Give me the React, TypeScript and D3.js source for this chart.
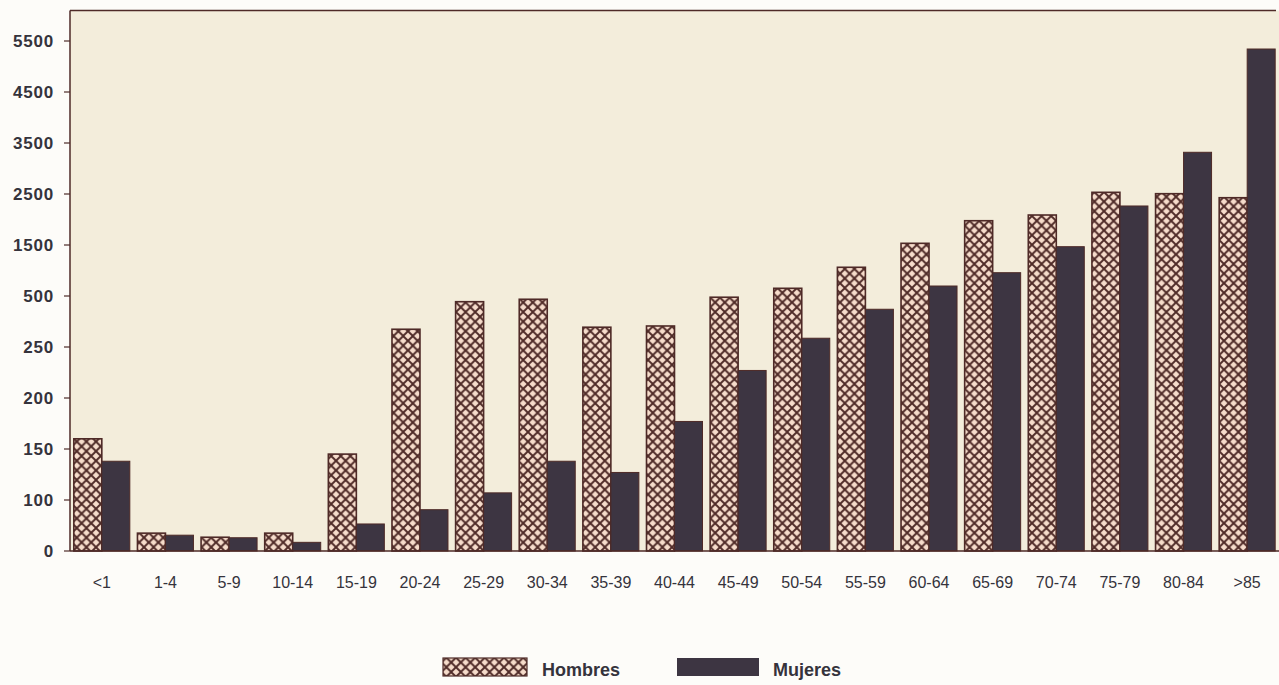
import React from "react";
import * as d3 from "d3";

const categories = ["<1", "1-4", "5-9", "10-14", "15-19", "20-24", "25-29", "30-34", "35-39", "40-44", "45-49", "50-54", "55-59", "60-64", "65-69", "70-74", "75-79", "80-84", ">85"];
const hombres = [160, 35, 27, 35, 145, 337, 472, 484, 347, 353, 494, 651, 1063, 1533, 1976, 2088, 2533, 2506, 2427];
const mujeres = [138, 31, 26, 17, 53, 81, 107, 138, 127, 177, 227, 293, 435, 696, 957, 1467, 2265, 3318, 5343];
const yTicks = [0, 100, 150, 200, 250, 500, 1500, 2500, 3500, 4500, 5500];
const seriesNames = ["Hombres", "Mujeres"];

const W = 1279;
const H = 685;
const left = 70;
const right = 1279;
const top = 10.5;
const base = 551;
const step = 51;

export default function App() {
  const x = d3.scaleBand<string>().domain(categories).range([left, right]).paddingInner(0.12).paddingOuter(0.06);
  const y = d3
    .scaleLinear()
    .domain(yTicks)
    .range(yTicks.map((_, i) => base - i * step));
  const bw = x.bandwidth() / 2;
  const line = "#4e2a27";
  const dark = "#3d3542";
  const hatchFill = "#f6dccb";
  const font = "'Liberation Sans', Arial, sans-serif";
  const textCol = "#35333c";
  const P = 9.6;

  return (
    <svg width={W} height={H} style={{ position: "absolute", left: 0, top: 0, background: "#fdfcf9" }}>
      <defs>
        <pattern id="hatch" patternUnits="userSpaceOnUse" width={P} height={P}>
          <rect width={P} height={P} fill={hatchFill} />
          <path d={`M0,0 L${P},${P} M${P},0 L0,${P}`} stroke={line} strokeWidth={1.9} />
        </pattern>
      </defs>
      <rect x={left} y={top} width={right - left} height={base - top} fill="#f3eddb" />
      {categories.map((c, i) => {
        const x0 = x(c)!;
        return (
          <g key={c}>
            <rect x={x0} y={y(hombres[i])} width={bw} height={base - y(hombres[i])} fill="url(#hatch)" stroke={line} strokeWidth={1.6} />
            <rect x={x0 + bw} y={y(mujeres[i])} width={bw} height={base - y(mujeres[i])} fill={dark} stroke={line} strokeWidth={1} />
            <text x={x0 + x.bandwidth() / 2} y={588} textAnchor="middle" fontFamily={font} fontSize={16} fill={textCol}>
              {c}
            </text>
          </g>
        );
      })}
      <line x1={left} x2={1276} y1={top} y2={top} stroke={line} strokeWidth={1.5} />
      <line x1={left} x2={left} y1={top} y2={base} stroke={line} strokeWidth={1.5} />
      <line x1={left} x2={right} y1={base} y2={base} stroke={line} strokeWidth={1.5} />
      {yTicks.map((t) => (
        <g key={t}>
          <line x1={left - 6} x2={left} y1={y(t)} y2={y(t)} stroke={line} strokeWidth={1.2} />
          <text x={54} y={y(t) + 6} textAnchor="end" fontFamily={font} fontWeight="bold" fontSize={17} letterSpacing={0.8} fill={textCol}>
            {t}
          </text>
        </g>
      ))}
      <g>
        <rect x={443} y={658} width={84} height={18} fill="url(#hatch)" stroke={line} strokeWidth={1.2} />
        <text x={542} y={676} fontFamily={font} fontWeight="bold" fontSize={18} fill={textCol}>
          {seriesNames[0]}
        </text>
        <rect x={677} y={658} width={82} height={18} fill={dark} />
        <text x={773} y={676} fontFamily={font} fontWeight="bold" fontSize={18} fill={textCol}>
          {seriesNames[1]}
        </text>
      </g>
    </svg>
  );
}
